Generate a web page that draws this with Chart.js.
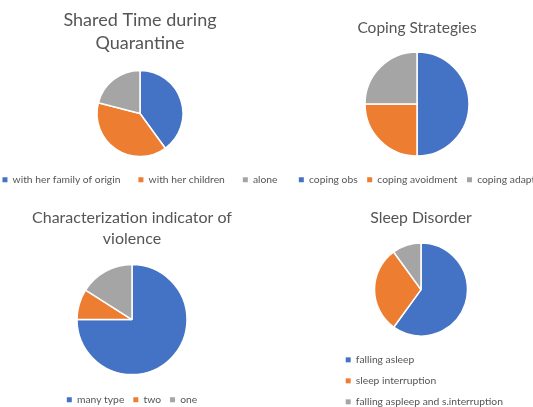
<!DOCTYPE html>
<html>
<head>
<meta charset="utf-8">
<script src="https://cdn.jsdelivr.net/npm/chart.js@4"></script>
<style>
  html, body { margin: 0; padding: 0; background: #fff; overflow: hidden; }
  body { width: 533px; height: 407px; position: relative; }
  canvas { position: absolute; }
</style>
</head>
<body>
<canvas id="shared" width="316" height="195" style="left:-18px;top:0px"></canvas>
<canvas id="coping" width="290" height="195" style="left:272px;top:0px"></canvas>
<canvas id="violence" width="260" height="215" style="left:2px;top:200px"></canvas>
<canvas id="sleep" width="172" height="217" style="left:335px;top:200px"></canvas>
<script>
// ===== DATA =====
const sharedLabels = ['with her family of origin', 'with her children', 'alone'];
const sharedValues = [40, 39, 21];

const copingLabels = ['coping obs', 'coping avoidment', 'coping adapt'];
const copingValues = [50, 25, 25];

const violenceLabels = ['many type', 'two', 'one'];
const violenceValues = [75, 9, 16];

const sleepLabels = ['falling asleep', 'sleep interruption', 'falling aspleep and s.interruption'];
const sleepValues = [60, 30, 10];

const colors = ['#4472C4', '#ED7D31', '#A5A5A5'];
const textColor = '#555555';
Chart.defaults.font.family = 'Lato, "Open Sans", sans-serif';

function makePie(id, title, labels, values, opt) {
    new Chart(document.getElementById(id), {
        type: 'pie',
        data: {
            labels: labels,
            datasets: [{
                data: values,
                backgroundColor: colors,
                borderColor: '#ffffff',
                borderWidth: 1.5,
                radius: opt.radius
            }]
        },
        options: {
            responsive: false,
            animation: false,
            events: [],
            layout: { padding: 0 },
            plugins: {
                tooltip: { enabled: false },
                title: {
                    display: true,
                    text: title,
                    color: textColor,
                    font: { size: opt.titleSize, weight: 'normal', lineHeight: opt.titleLH },
                    padding: { top: opt.titleTop, bottom: opt.titleBottom }
                },
                legend: {
                    position: 'bottom',
                    align: opt.align || 'center',
                    labels: {
                        color: textColor,
                        font: { size: 10.3 },
                        boxWidth: 5,
                        boxHeight: 5,
                        padding: opt.legendPad,
                        generateLabels: chart => Chart.overrides.doughnut.plugins.legend.labels
                            .generateLabels(chart).map(l => ({ ...l, lineWidth: 0, strokeStyle: 'rgba(0,0,0,0)' }))
                    }
                }
            }
        }
    });
}

makePie('shared', ['Shared Time during', 'Quarantine'], sharedLabels, sharedValues,
    { radius: 43, titleSize: 18, titleLH: 1.3, titleTop: 8.5, titleBottom: 15, legendPad: 18 });
makePie('coping', 'Coping Strategies', copingLabels, copingValues,
    { radius: 52, titleSize: 15.5, titleLH: 1.2, titleTop: 18.7, titleBottom: 5.7, legendPad: 9.5 });
makePie('violence', ['Characterization indicator of', 'violence'], violenceLabels, violenceValues,
    { radius: 55, titleSize: 16, titleLH: 1.31, titleTop: 7.5, titleBottom: 4, legendPad: 9 });
makePie('sleep', 'Sleep Disorder', sleepLabels, sleepValues,
    { radius: 46.5, titleSize: 15.8, titleLH: 1.2, titleTop: 8.5, titleBottom: 7.7, legendPad: 10.7, align: 'start' });
</script>
</body>
</html>
